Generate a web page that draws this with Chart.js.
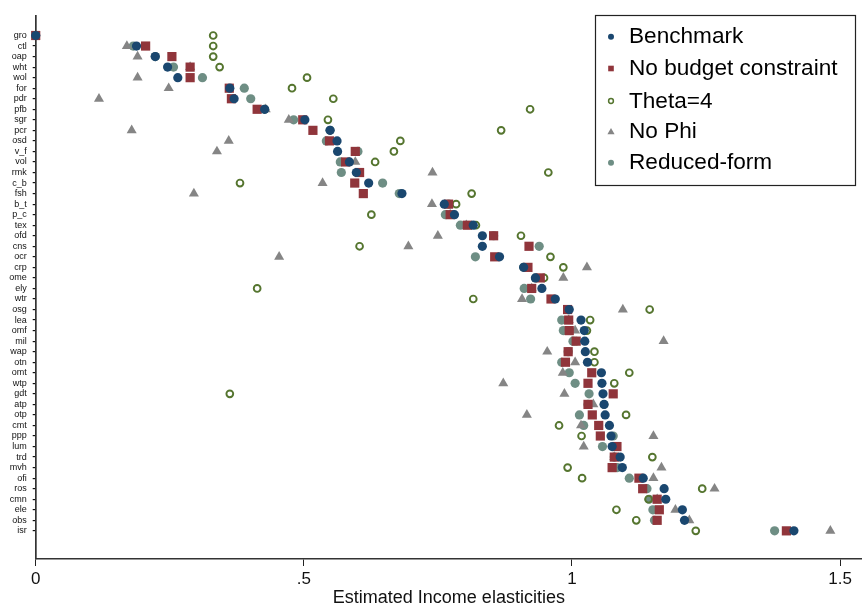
<!DOCTYPE html>
<html><head><meta charset="utf-8">
<script src="https://cdn.jsdelivr.net/npm/chart.js@4.4.0/dist/chart.umd.min.js"></script>
<style>html,body{margin:0;padding:0;background:#fff;overflow:hidden;} #wrap{width:862px;height:609px;}</style>
</head><body><div id="wrap"><canvas id="c" width="862" height="609"></canvas></div>
<script>
const categories = ['gro','ctl','oap','wht','wol','for','pdr','pfb','sgr','pcr','osd','v_f','vol','rmk','c_b','fsh','b_t','p_c','tex','ofd','cns','ocr','crp','ome','ely','wtr','osg','lea','omf','mil','wap','otn','omt','wtp','gdt','atp','otp','cmt','ppp','lum','trd','mvh','ofi','ros','cmn','ele','obs','isr'];

const benchmark = [0,0.188,0.223,0.246,0.265,0.362,0.370,0.427,0.502,0.549,0.562,0.563,0.585,0.598,0.621,0.683,0.762,0.781,0.816,0.833,0.833,0.865,0.910,0.932,0.944,0.969,0.995,1.017,1.023,1.024,1.025,1.029,1.055,1.056,1.058,1.060,1.062,1.070,1.073,1.075,1.090,1.094,1.133,1.172,1.175,1.206,1.210,1.414];

const noBudget = [0,0.205,0.254,0.288,0.288,0.361,0.365,0.413,0.498,0.517,0.548,0.596,0.578,0.604,0.595,0.611,0.770,0.773,0.805,0.854,0.920,0.856,0.918,0.941,0.925,0.961,0.992,0.994,0.995,1.008,0.993,0.988,1.037,1.030,1.077,1.030,1.038,1.050,1.053,1.084,1.079,1.075,1.125,1.132,1.159,1.163,1.159,1.400];

const theta4 = [0.331,0.331,0.331,0.343,0.506,0.478,0.555,0.922,0.545,0.868,0.680,0.668,0.633,0.956,0.381,0.813,0.784,0.626,0.821,0.905,0.604,0.960,0.984,0.948,0.413,0.816,1.145,1.034,1.028,1.008,1.042,1.042,1.107,1.079,0.362,1.060,1.101,0.976,1.018,1.080,1.150,0.992,1.019,1.243,1.143,1.083,1.120,1.231];

const noPhi = [null,0.170,0.190,0.288,0.190,0.248,0.118,0.429,0.472,0.179,0.360,0.338,0.596,0.740,0.535,0.295,0.739,0.773,0.803,0.750,0.695,0.454,1.028,0.984,0.925,0.907,1.095,0.994,1.006,1.171,0.954,1.006,0.983,0.872,0.986,1.040,0.916,1.017,1.152,1.022,1.079,1.167,1.152,1.266,1.159,1.193,1.219,1.482];

const reducedForm = [0,0.182,0.223,0.257,0.311,0.389,0.401,0.427,0.481,0.549,0.542,0.601,0.568,0.570,0.647,0.678,0.770,0.764,0.792,0.854,0.939,0.820,0.910,0.932,0.911,0.923,0.992,0.981,0.984,1.002,0.993,0.981,0.995,1.006,1.032,1.030,1.014,1.022,1.077,1.057,1.079,1.085,1.107,1.140,1.144,1.151,1.154,1.378];

const xTicks = [0, 0.5, 1, 1.5];
const xTickLabels = ['0', '.5', '1', '1.5'];
const seriesNames = ['Benchmark', 'No budget constraint', 'Theta=4', 'No Phi', 'Reduced-form'];

const FONT = "'Liberation Sans', Arial, Helvetica, sans-serif";
Chart.defaults.font.family = FONT;

function toPoints(arr) {
  return arr.map((v, i) => (v === null ? null : { x: v, y: i })).filter(p => p !== null);
}

const styles = [
  { pointStyle: 'circle', pointRadius: 4.6, backgroundColor: '#1a476f', borderColor: '#1a476f', pointBorderWidth: 0 },
  { pointStyle: 'rect', pointRadius: 6.5, backgroundColor: '#90353b', borderColor: '#90353b', pointBorderWidth: 0 },
  { pointStyle: 'circle', pointRadius: 3.4, backgroundColor: 'rgba(0,0,0,0)', borderColor: '#55752f', pointBorderWidth: 1.9 },
  { pointStyle: 'triangle', pointRadius: 5.8, backgroundColor: '#858585', borderColor: '#858585', pointBorderWidth: 0 },
  { pointStyle: 'circle', pointRadius: 4.6, backgroundColor: '#6e8e84', borderColor: '#6e8e84', pointBorderWidth: 0 }
];
const seriesData = [benchmark, noBudget, theta4, noPhi, reducedForm];

const datasets = seriesData.map((arr, k) => Object.assign({
  label: seriesNames[k],
  data: toPoints(arr),
  showLine: false,
  clip: false,
  pointHoverRadius: styles[k].pointRadius
}, styles[k]));

const legendPlugin = {
  id: 'boxLegend',
  afterDatasetsDraw(chart) {
    const ctx = chart.ctx;
    ctx.save();
    const bx = 595.5, by = 15.5, bw = 260, bh = 170;
    ctx.fillStyle = '#fff';
    ctx.fillRect(bx, by, bw, bh);
    ctx.strokeStyle = '#222';
    ctx.lineWidth = 1.2;
    ctx.strokeRect(bx, by, bw, bh);
    const rowsY = [36.7, 68.5, 101, 131.7, 162.7];
    const mx = 611;
    chart.data.datasets.forEach((ds, i) => {
      const y = rowsY[i];
      ctx.beginPath();
      if (i === 0 || i === 4) {
        ctx.fillStyle = ds.backgroundColor;
        ctx.arc(mx, y, 3, 0, Math.PI * 2);
        ctx.fill();
      } else if (i === 1) {
        ctx.fillStyle = ds.backgroundColor;
        ctx.fillRect(mx - 2.8, y - 2.8, 5.6, 5.6);
      } else if (i === 2) {
        ctx.strokeStyle = ds.borderColor;
        ctx.lineWidth = 1.5;
        ctx.arc(mx, y, 2.4, 0, Math.PI * 2);
        ctx.stroke();
      } else if (i === 3) {
        ctx.fillStyle = ds.backgroundColor;
        ctx.moveTo(mx, y - 3.6);
        ctx.lineTo(mx + 3.6, y + 2.6);
        ctx.lineTo(mx - 3.6, y + 2.6);
        ctx.closePath();
        ctx.fill();
      }
      ctx.fillStyle = '#000';
      ctx.font = '22.6px ' + FONT;
      ctx.textBaseline = 'middle';
      ctx.textAlign = 'left';
      ctx.fillText(ds.label, 629, y + 0.5);
    });
    ctx.restore();
  }
};

new Chart(document.getElementById('c'), {
  type: 'scatter',
  data: { datasets },
  options: {
    responsive: false,
    animation: false,
    layout: { autoPadding: false, padding: { top: 16, right: 0, bottom: 0, left: 0 } },
    plugins: { legend: { display: false }, tooltip: { enabled: false } },
    scales: {
      x: {
        type: 'linear',
        min: 0,
        max: 1.541,
        afterBuildTicks: (s) => { s.ticks = xTicks.map(v => ({ value: v })); },
        afterFit: (s) => { s.height = 50; },
        ticks: {
          autoSkip: false,
          maxRotation: 0,
          padding: 3,
          color: '#111',
          font: { size: 17 },
          callback: (v) => { const i = xTicks.indexOf(v); return i >= 0 ? xTickLabels[i] : ''; }
        },
        grid: { drawOnChartArea: false, drawTicks: true, tickLength: 7, color: '#222', lineWidth: 1 },
        border: { display: true, color: '#333', width: 1.5 },
        title: { display: true, text: 'Estimated Income elasticities', color: '#111', font: { size: 18 }, padding: { top: 0, bottom: 0 } }
      },
      y: {
        type: 'linear',
        reverse: true,
        min: -1.85,
        max: 49.67,
        afterBuildTicks: (s) => { s.ticks = categories.map((c, i) => ({ value: i })); },
        afterFit: (s) => { s.width = 35.7; },
        ticks: {
          autoSkip: false,
          padding: 6,
          color: '#111',
          font: { size: 9 },
          callback: (v) => categories[Math.round(v)]
        },
        grid: { drawOnChartArea: false, drawTicks: true, tickLength: 3, color: '#111', lineWidth: 1.2 },
        border: { display: true, color: '#333', width: 1.7 }
      }
    }
  },
  plugins: [legendPlugin]
});
</script></body></html>
